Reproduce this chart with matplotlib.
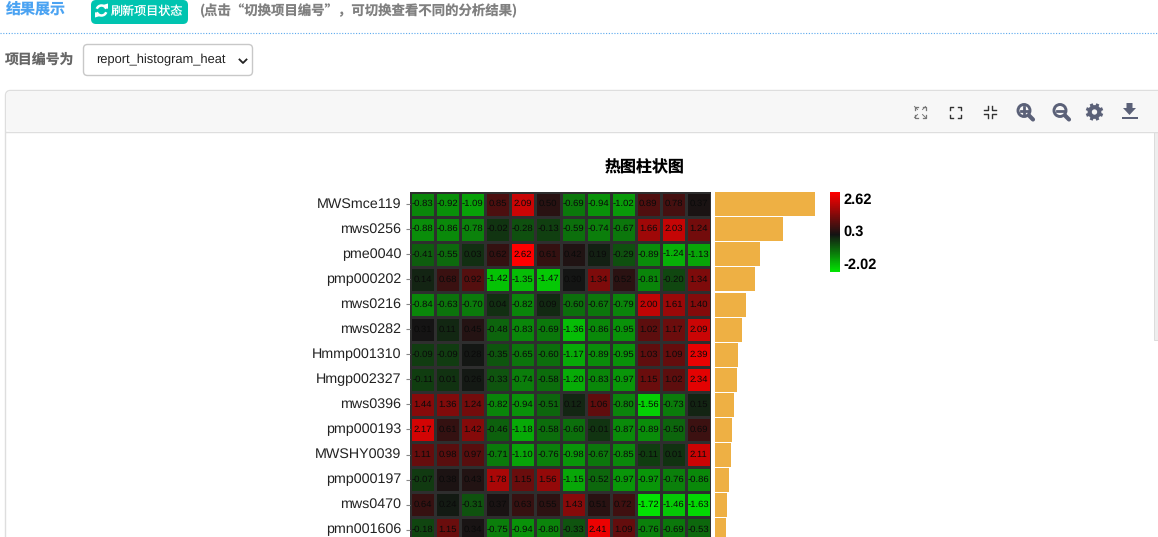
import matplotlib
matplotlib.use('Agg')
import matplotlib.pyplot as plt
from matplotlib.colors import LinearSegmentedColormap, Normalize
from matplotlib.patches import Rectangle, FancyBboxPatch, Circle, Arc, Polygon
from matplotlib.transforms import ScaledTranslation
import numpy as np

plt.rcParams['font.family'] = ['Noto Sans CJK SC', 'Liberation Sans', 'DejaVu Sans']
plt.rcParams['text.hinting'] = 'no_hinting'

W, H = 1158, 537

# ── data ─────────────────────────────────────────────────────────────────────
row_labels = ['MWSmce119', 'mws0256', 'pme0040', 'pmp000202', 'mws0216', 'mws0282', 'Hmmp001310',
              'Hmgp002327', 'mws0396', 'pmp000193', 'MWSHY0039', 'pmp000197', 'mws0470', 'pmn001606']
heat_values = [
    [-0.83, -0.92, -1.09, 0.85, 2.09, 0.50, -0.69, -0.94, -1.02, 0.89, 0.78, 0.37],
    [-0.88, -0.86, -0.78, -0.02, -0.28, -0.13, -0.59, -0.74, -0.67, 1.66, 2.03, 1.24],
    [-0.41, -0.55, 0.03, 0.62, 2.62, 0.61, 0.42, 0.19, -0.29, -0.89, -1.24, -1.13],
    [0.14, 0.68, 0.92, -1.42, -1.35, -1.47, 0.30, 1.34, 0.52, -0.81, -0.20, 1.34],
    [-0.84, -0.63, -0.70, 0.04, -0.82, 0.09, -0.60, -0.67, -0.79, 2.00, 1.61, 1.40],
    [0.31, 0.11, 0.45, -0.48, -0.83, -0.69, -1.36, -0.86, -0.95, 1.02, 1.17, 2.09],
    [-0.09, -0.09, 0.28, -0.35, -0.65, -0.60, -1.17, -0.89, -0.95, 1.03, 1.09, 2.39],
    [-0.11, 0.01, 0.26, -0.33, -0.74, -0.58, -1.20, -0.83, -0.97, 1.15, 1.02, 2.34],
    [1.44, 1.36, 1.24, -0.82, -0.94, -0.51, 0.12, 1.06, -0.80, -1.56, -0.73, 0.15],
    [2.17, 0.61, 1.42, -0.46, -1.18, -0.58, -0.60, -0.01, -0.87, -0.89, -0.50, 0.69],
    [1.11, 0.98, 0.97, -0.71, -1.10, -0.76, -0.98, -0.67, -0.85, -0.11, 0.01, 2.11],
    [-0.07, 0.38, 0.43, 1.78, 1.15, 1.56, -1.15, -0.52, -0.97, -0.97, -0.76, -0.86],
    [0.64, 0.24, -0.31, 0.37, 0.63, 0.55, 1.43, 0.51, 0.72, -1.72, -1.46, -1.63],
    [-0.18, 1.15, 0.34, -0.75, -0.94, -0.80, -0.33, 2.41, 1.09, -0.76, -0.69, -0.53],
]
bar_values = [100, 68, 45, 40, 31, 27, 23, 22, 18.5, 17, 16, 14, 12, 11]
scale_ticks = [2.62, 0.3, -2.02]

BAR = '#eeb044'
CELL_EDGE = '#2e2e2e'
ROW_H = 25.05
TOP = 191.5


def px_axes(x0, y0, x1, y1, **kw):
    # axes placed in screen pixels, y measured from the top
    return fig.add_axes([x0 / W, 1 - y1 / H, (x1 - x0) / W, (y1 - y0) / H], **kw)


fig = plt.figure(figsize=(W / 100, H / 100), dpi=100, facecolor='white')

# ── page around the chart ────────────────────────────────────────────────────
bg = px_axes(0, 0, W, H)
bg.set_xlim(0, W)
bg.set_ylim(H, 0)
bg.axis('off')

bg.text(6, 9.5, '结果展示', fontsize=10.8, color='#4ba3f2', va='center', fontweight='bold')
bg.add_patch(FancyBboxPatch((91, 0), 97, 24, boxstyle='round,pad=0,rounding_size=5', fc='#00c4b0', ec='none'))
bg.add_patch(Arc((101.5, 10.5), 10, 10, theta1=200, theta2=340, color='white', lw=1.8))
bg.add_patch(Arc((101.5, 10.5), 10, 10, theta1=20, theta2=160, color='white', lw=1.8))
bg.add_patch(Polygon([[103, 5], [108, 3.5], [108, 9]], fc='white', ec='none'))
bg.add_patch(Polygon([[100, 16], [95, 17.5], [95, 12]], fc='white', ec='none'))
bg.text(111, 11, '刷新项目状态', fontsize=8.7, color='white', va='center')
bg.text(200, 10.5, '(点击“切换项目编号”，可切换查看不同的分析结果)', fontsize=9.65, color='#808080',
        va='center', fontweight='bold')
bg.plot([0, W], [33, 33], color='#5aa9ee', lw=0.8, ls=(0, (1, 1.5)))

bg.text(5, 60, '项目编号为', fontsize=10, color='#666666', va='center', fontweight='bold')
bg.add_patch(FancyBboxPatch((83.5, 44.5), 169, 31, boxstyle='round,pad=0,rounding_size=4', fc='white',
                            ec='#c8c8c8', lw=1))
bg.text(96, 60, 'report_histogram_heat', fontsize=9.3, color='#222222', va='center', family='Liberation Sans')
bg.plot([239.5, 243, 246.5], [59.5, 63, 59.5], color='#222222', lw=1.3)

# panel with toolbar
bg.add_patch(FancyBboxPatch((5.5, 90.5), W, 460, boxstyle='round,pad=0,rounding_size=5', fc='white',
                            ec='#dedede', lw=1))
bg.add_patch(FancyBboxPatch((6, 91), W, 40, boxstyle='round,pad=0,rounding_size=5', fc='#f7f7f7', ec='none'))
bg.plot([6, W], [131.5, 131.5], color='#dedede', lw=1)
bg.add_patch(Rectangle((1154, 132), 4, 208, fc='#eeeeee', ec='#dcdcdc', lw=0.7))

ICON = '#5b6178'
for cx, cy, sx, sy in [(914.5, 106.5, 1, 1), (925.5, 106.5, -1, 1), (914.5, 117.5, 1, -1), (925.5, 117.5, -1, -1)]:
    bg.plot([cx, cx, cx + 3 * sx], [cy + 3 * sy, cy, cy], color='#777777', lw=0.9)
    bg.plot([cx, cx + 3 * sx], [cy, cy + 3 * sy], color='#777777', lw=0.7)
for cx, cy, sx, sy in [(949.5, 106.5, 1, 1), (960.5, 106.5, -1, 1), (949.5, 117.5, 1, -1), (960.5, 117.5, -1, -1)]:
    bg.plot([cx, cx, cx + 3 * sx], [cy + 3 * sy, cy, cy], color='#333333', lw=1)
for cx, cy, sx, sy in [(988, 110, -1, -1), (992, 110, 1, -1), (988, 114, -1, 1), (992, 114, 1, 1)]:
    bg.plot([cx + 4 * sx, cx, cx], [cy, cy, cy + 4 * sy], color='#333333', lw=1)
for cx, sign in [(1024, '+'), (1060, '-')]:
    bg.add_patch(Circle((cx, 110.5), 6, fc='none', ec=ICON, lw=2.1))
    bg.plot([cx + 5, cx + 9], [115.5, 119.5], color=ICON, lw=3, solid_capstyle='round')
    bg.plot([cx - 3.5, cx + 3.5], [110.5, 110.5], color=ICON, lw=2)
    if sign == '+':
        bg.plot([cx, cx], [107, 114], color=ICON, lw=2)
bg.add_patch(Circle((1094.5, 112), 4.8, fc='none', ec=ICON, lw=3))
for a in np.deg2rad(np.arange(22.5, 360, 45)):
    bg.plot([1094.5 + 5 * np.cos(a), 1094.5 + 8.8 * np.cos(a)], [112 + 5 * np.sin(a), 112 + 8.8 * np.sin(a)],
            color=ICON, lw=2.3, solid_capstyle='butt')
bg.add_patch(Polygon([[1126.5, 103], [1132.5, 103], [1132.5, 108], [1136, 108], [1129.5, 115], [1123, 108],
                      [1126.5, 108]], fc=ICON, ec='none'))
bg.add_patch(Rectangle((1121.5, 117.2), 16, 2.3, fc=ICON, ec='none'))

bg.text(645, 168, '热图柱状图', fontsize=11.5, color='black', ha='center', va='center', fontweight='bold')

# ── heatmap ──────────────────────────────────────────────────────────────────
vals = np.array(heat_values)
cmap = LinearSegmentedColormap.from_list('gbr', [(0, '#00ff00'), (0.5, '#141414'), (1, '#ff0000')])
norm = Normalize(min(scale_ticks), max(scale_ticks))

n_rows = vals.shape[0]
ax = px_axes(410, TOP, 711, TOP + ROW_H * n_rows, facecolor='none')
ax.pcolormesh(vals, cmap=cmap, norm=norm, edgecolors=CELL_EDGE, linewidth=0.75)
ax.set_ylim(n_rows, 0)
ax.set_xticks([])
ax.set_yticks(np.arange(n_rows) + 0.5, row_labels, fontsize=10.3, family='Liberation Sans', color='#222222')
ax.tick_params(axis='y', length=3.2, width=0.8, color='#888888', pad=3)
nudge = ScaledTranslation(0, 1.5 / 100, fig.dpi_scale_trans)
for lab in ax.get_yticklabels():
    lab.set_transform(lab.get_transform() + nudge)
for sp in ax.spines.values():
    sp.set_visible(False)
for i, row in enumerate(heat_values):
    for j, v in enumerate(row):
        ax.text(j + 0.5, i + 0.5, f'{v:.2f}', ha='center', va='center', fontsize=6.8, color='#0a0a0a',
                family='Liberation Sans', clip_on=True)

# ── side bars ────────────────────────────────────────────────────────────────
ax_bar = px_axes(715, TOP + 0.3, 815, TOP + 0.3 + ROW_H * n_rows, facecolor='none')
ax_bar.barh(np.arange(n_rows) + 0.5, bar_values, height=0.96, color=BAR)
ax_bar.set_xlim(0, max(bar_values))
ax_bar.set_ylim(n_rows, 0)
ax_bar.axis('off')

# ── colour scale ─────────────────────────────────────────────────────────────
ax_cb = px_axes(830, 192, 840, 272)
ax_cb.imshow(np.linspace(1, 0.06, 80)[:, None], cmap=cmap, vmin=0, vmax=1, aspect='auto',
             extent=[0, 1, min(scale_ticks), max(scale_ticks)])
ax_cb.axis('off')
for y, v in zip([199.5, 231.5, 264.5], scale_ticks):
    bg.text(843.5, y, str(v), fontsize=10.5, fontweight='bold', color='black', va='center', family='Liberation Sans')

fig.savefig('out.png', dpi=100, facecolor='white')
plt.close()
